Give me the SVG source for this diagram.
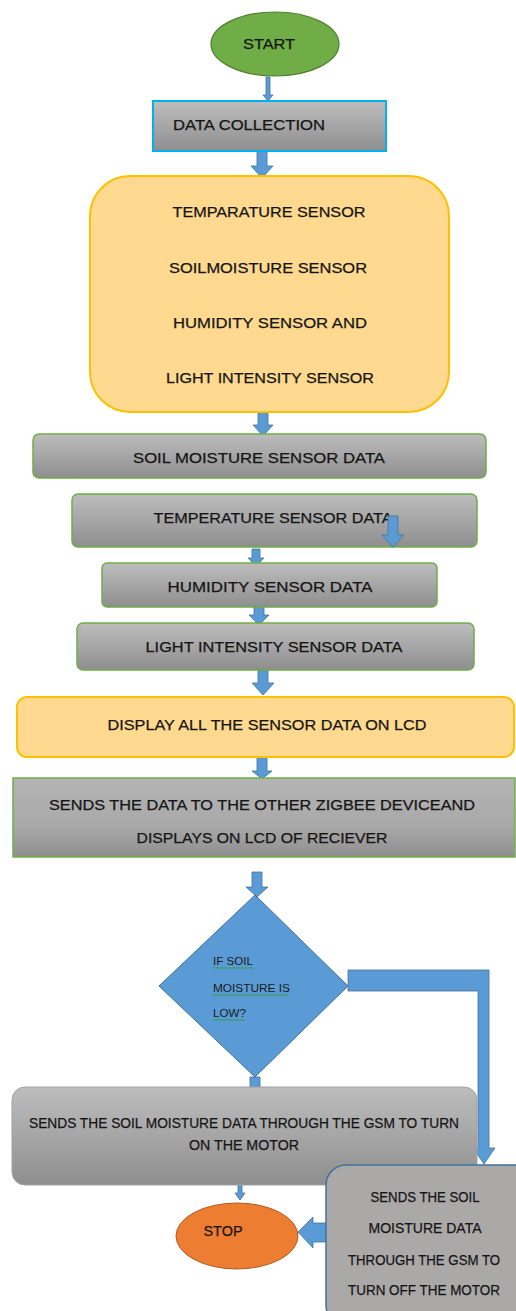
<svg xmlns="http://www.w3.org/2000/svg" width="516" height="1311" viewBox="0 0 516 1311">
<defs>
<linearGradient id="gray" x1="0" y1="0" x2="0" y2="1">
<stop offset="0" stop-color="#BDBDBD"/>
<stop offset="0.5" stop-color="#A6A6A6"/>
<stop offset="1" stop-color="#8E8E8E"/>
</linearGradient>
<linearGradient id="gray2" x1="0" y1="0" x2="0" y2="1">
<stop offset="0" stop-color="#B4B4B4"/>
<stop offset="0.6" stop-color="#A9A9A9"/>
<stop offset="1" stop-color="#8F8F8F"/>
</linearGradient>
</defs>
<style>
.t{font-family:"Liberation Sans",Arial,sans-serif;font-size:15px;fill:#151515;stroke:#151515;stroke-width:0.25;text-anchor:middle}
.ts{font-family:"Liberation Sans",Arial,sans-serif;font-size:10.5px;fill:#1a1a1a}
.box{fill:url(#gray);stroke:#70AD47;stroke-width:1.5}
.yel{fill:#FFD98F;stroke:#FFC000;stroke-width:2}
.arr{fill:#5B9BD5;stroke:#41719C;stroke-width:0.8}
.wavy{fill:none;stroke:#2E9E2E;stroke-width:0.8}
</style>
<rect width="516" height="1311" fill="#ffffff"/>

<g id="connectors">
<path class="arr" d="M266,77 H270 V95 H273 L268,101 L263,95 H266 Z"/>
<path class="arr" d="M257,151 H267 V166 H273 L262,178 L251,166 H257 Z"/>
<path class="arr" d="M258,412 H268 V425 H273 L263,436 L253,425 H258 Z"/>
<path class="arr" d="M252,549 H260 V558 H264 L256,566 L248,558 H252 Z"/>
<path class="arr" d="M254,600 H264 V615 H269 L259,625 L249,615 H254 Z"/>
<path class="arr" d="M258,670 H268 V683 H274 L263,695 L252,683 H258 Z"/>
<path class="arr" d="M257,757 H267 V771 H272 L262,779 L252,771 H257 Z"/>
<path class="arr" d="M252,872 H262 V887 H268 L257,897 L246,887 H252 Z"/>
<path class="arr" d="M250,1077 H260 V1088 H250 Z"/>
<path class="arr" d="M348,970 H489 V1148 H495 L484,1164 L473,1148 H478 V991 H348 Z"/>
<path class="arr" d="M238,1177 H242 V1193 H245 L240,1200 L235,1193 H238 Z"/>
<path class="arr" d="M327,1223 H313 V1217 L298,1232 L313,1248 V1242 H327 Z"/>
</g>

<g id="start">
<ellipse cx="275" cy="44" rx="64" ry="32" fill="#70AD47" stroke="#507E32" stroke-width="1.2"/>
<text class="t" x="269" y="49" textLength="52" lengthAdjust="spacingAndGlyphs">START</text>
</g>

<g id="data-collection">
<rect x="153" y="101" width="233" height="50" fill="url(#gray)" stroke="#00B0F0" stroke-width="2"/>
<text class="t" x="249" y="130" textLength="152" lengthAdjust="spacingAndGlyphs">DATA COLLECTION</text>
</g>

<g id="sensors">
<rect class="yel" x="90" y="176" width="359" height="236" rx="40" ry="40"/>
<text class="t" x="269" y="217" textLength="193" lengthAdjust="spacingAndGlyphs">TEMPARATURE SENSOR</text>
<text class="t" x="268" y="273" textLength="198" lengthAdjust="spacingAndGlyphs">SOILMOISTURE SENSOR</text>
<text class="t" x="270" y="328" textLength="194" lengthAdjust="spacingAndGlyphs">HUMIDITY SENSOR AND</text>
<text class="t" x="270" y="383" textLength="208" lengthAdjust="spacingAndGlyphs">LIGHT INTENSITY SENSOR</text>
</g>

<g id="soil-data">
<rect class="box" x="33" y="434" width="453" height="44" rx="6" ry="6"/>
<text class="t" x="259" y="463" textLength="252" lengthAdjust="spacingAndGlyphs">SOIL MOISTURE SENSOR DATA</text>
</g>

<g id="temp-data">
<rect class="box" x="72" y="494" width="405" height="53" rx="6" ry="6"/>
<text class="t" x="273" y="523" textLength="239" lengthAdjust="spacingAndGlyphs">TEMPERATURE SENSOR DATA</text>
<path class="arr" d="M388,516 H398 V535 H404 L393,547 L382,535 H388 Z"/>
</g>

<g id="humidity-data">
<rect class="box" x="102" y="563" width="335" height="44" rx="5" ry="5"/>
<text class="t" x="270" y="592" textLength="205" lengthAdjust="spacingAndGlyphs">HUMIDITY SENSOR DATA</text>
</g>

<g id="light-data">
<rect class="box" x="77" y="623" width="397" height="47" rx="6" ry="6"/>
<text class="t" x="274" y="652" textLength="257" lengthAdjust="spacingAndGlyphs">LIGHT INTENSITY SENSOR DATA</text>
</g>

<g id="display">
<rect class="yel" x="17" y="697" width="497" height="60" rx="10" ry="10"/>
<text class="t" x="267" y="730" textLength="319" lengthAdjust="spacingAndGlyphs">DISPLAY ALL THE SENSOR DATA ON LCD</text>
</g>

<g id="sends">
<rect x="13" y="778" width="502" height="79" fill="url(#gray2)" stroke="#70AD47" stroke-width="1.5"/>
<text class="t" x="262" y="810" textLength="426" lengthAdjust="spacingAndGlyphs">SENDS THE DATA TO THE OTHER ZIGBEE DEVICEAND</text>
<text class="t" x="262" y="843" textLength="251" lengthAdjust="spacingAndGlyphs">DISPLAYS ON LCD OF RECIEVER</text>
</g>

<g id="decision">
<polygon points="255,895 348,986 255,1077 159,986" fill="#5B9BD5" stroke="#41719C" stroke-width="1"/>
<text class="ts" x="213" y="965" textLength="40" lengthAdjust="spacingAndGlyphs">IF SOIL</text>
<text class="ts" x="213" y="992" textLength="77" lengthAdjust="spacingAndGlyphs">MOISTURE IS</text>
<text class="ts" x="213" y="1017" textLength="33" lengthAdjust="spacingAndGlyphs">LOW?</text>
<path class="wavy" d="M213,968 q1,-1.5 2,0 t2,0 t2,0 t2,0 t2,0 t2,0 t2,0 t2,0 t2,0 t2,0 t2,0 t2,0 t2,0 t2,0 t2,0 t2,0 t2,0 t2,0 t2,0 t2,0"/>
<path class="wavy" d="M213,995 q1,-1.5 2,0 t2,0 t2,0 t2,0 t2,0 t2,0 t2,0 t2,0 t2,0 t2,0 t2,0 t2,0 t2,0 t2,0 t2,0 t2,0 t2,0 t2,0 t2,0 t2,0 t2,0 t2,0 t2,0 t2,0 t2,0 t2,0 t2,0 t2,0 t2,0 t2,0 t2,0 t2,0 t2,0 t2,0 t2,0 t2,0 t2,0 t2,0"/>
<path class="wavy" d="M213,1020 q1,-1.5 2,0 t2,0 t2,0 t2,0 t2,0 t2,0 t2,0 t2,0 t2,0 t2,0 t2,0 t2,0 t2,0 t2,0 t2,0 t2,0"/>
</g>

<g id="motor-on">
<rect x="12" y="1087" width="465" height="98" rx="13" ry="13" fill="url(#gray)" stroke="#A0A0A0" stroke-width="1"/>
<text class="t" x="244" y="1128" textLength="430" lengthAdjust="spacingAndGlyphs">SENDS THE SOIL MOISTURE DATA THROUGH THE GSM TO TURN</text>
<text class="t" x="244" y="1150" textLength="110" lengthAdjust="spacingAndGlyphs">ON THE MOTOR</text>
</g>

<g id="stop">
<ellipse cx="237" cy="1236" rx="61" ry="33" fill="#ED7D31" stroke="#AE5A21" stroke-width="1"/>
<text class="t" x="223" y="1236" textLength="39" lengthAdjust="spacingAndGlyphs">STOP</text>
</g>

<g id="motor-off">
<rect x="326" y="1165" width="210" height="160" rx="20" ry="20" fill="#ABA8A8" stroke="#41719C" stroke-width="1.5"/>
<text class="t" x="425" y="1202" textLength="109" lengthAdjust="spacingAndGlyphs">SENDS THE SOIL</text>
<text class="t" x="425" y="1233" textLength="113" lengthAdjust="spacingAndGlyphs">MOISTURE DATA</text>
<text class="t" x="424" y="1265" textLength="152" lengthAdjust="spacingAndGlyphs">THROUGH THE GSM TO</text>
<text class="t" x="424" y="1295" textLength="152" lengthAdjust="spacingAndGlyphs">TURN OFF THE MOTOR</text>
</g>
</svg>
